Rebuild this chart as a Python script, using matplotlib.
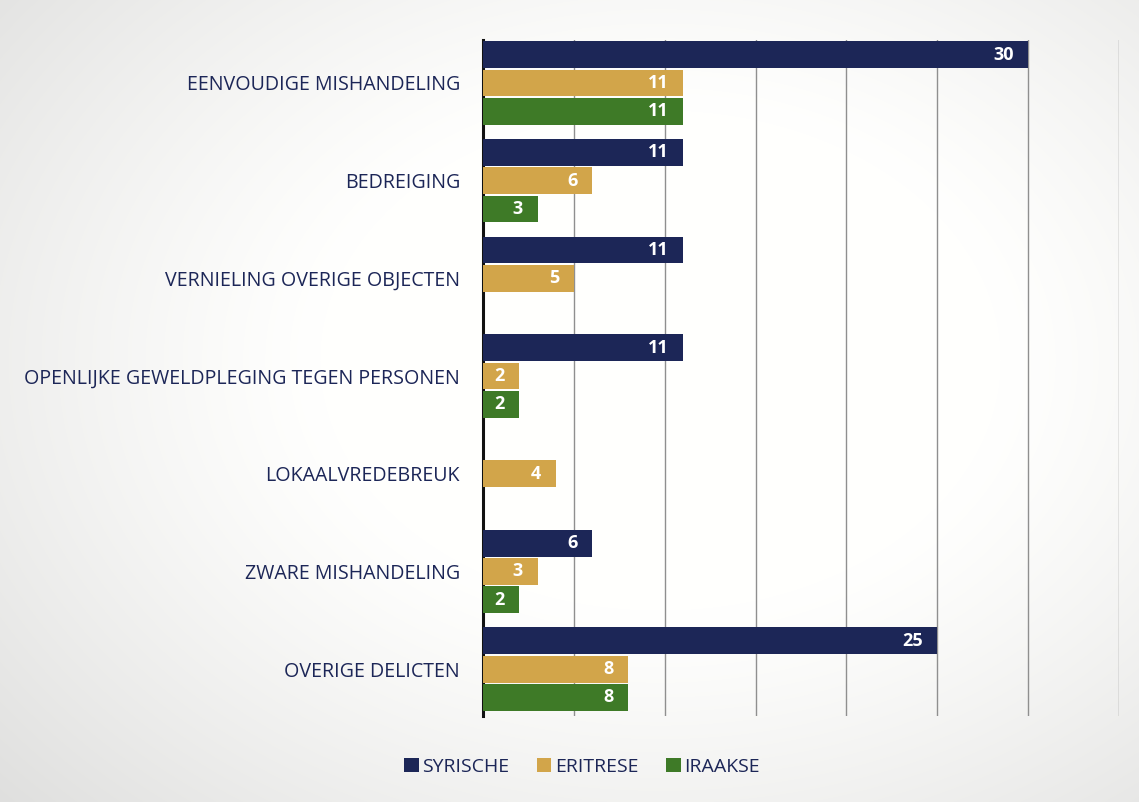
import numpy as np
import matplotlib
matplotlib.use("Agg")
import matplotlib.pyplot as plt
from matplotlib.patches import Patch

categories = ["EENVOUDIGE MISHANDELING", "BEDREIGING", "VERNIELING OVERIGE OBJECTEN",
              "OPENLIJKE GEWELDPLEGING TEGEN PERSONEN", "LOKAALVREDEBREUK",
              "ZWARE MISHANDELING", "OVERIGE DELICTEN"]
series_names = ["SYRISCHE", "ERITRESE", "IRAAKSE"]
syrische = [30, 11, 11, 11, None, 6, 25]
eritrese = [11, 6, 5, 2, 4, 3, 8]
iraakse = [11, 3, None, 2, None, 2, 8]
series = [syrische, eritrese, iraakse]
colors = ["#1c2657", "#d2a54a", "#3e7a27"]
text_color = "#1c2657"
font = ["Open Sans", "DejaVu Sans"]

fig = plt.figure(figsize=(11.39, 8.02), dpi=100)

# vignette background
bg = fig.add_axes([0, 0, 1, 1], zorder=-10)
yy, xx = np.mgrid[0:802, 0:1139]
cx, cy = 660, 360
r = np.sqrt(((xx - cx) / 680.0) ** 2 + ((yy - cy) / 500.0) ** 2)
v = 1.0 - 0.16 * np.clip(r - 0.5, 0, None) ** 1.2
v = np.clip(v, 0.8, 1.0)
img = np.dstack([v, v, v * 0.995])
bg.imshow(img, aspect="auto", extent=[0, 1, 0, 1])
bg.axis("off")

ax = fig.add_axes([483 / 1139, 1 - 716 / 802, (1119 - 483) / 1139, (716 - 40) / 802])
ax.patch.set_alpha(0)

n = len(categories)
ypos = np.arange(n)
h = 0.275
offs = [-0.29, 0.0, 0.29]
for s, vals in enumerate(series):
    for i, val in enumerate(vals):
        if val is None:
            continue
        y = ypos[i] + offs[s]
        ax.barh(y, val, height=h, color=colors[s], zorder=3)
        ax.text(val - 0.8, y, str(val), ha="right", va="center", color="white",
                fontsize=13, fontweight="bold", family=font, zorder=4)

ax.set_xlim(0, 35)
ax.set_ylim(6.48, -0.44)
ax.set_xticks(np.arange(0, 36, 5))
ax.set_xticklabels([])
ax.tick_params(axis="x", length=0)
ax.grid(axis="x", color="#8f8f8f", linewidth=1.0, zorder=0)
ax.set_yticks(ypos)
ax.set_yticklabels(categories, family=font, fontsize=14.1, color=text_color)
ax.tick_params(axis="y", length=0, pad=16.5)
for sp in ["top", "right", "bottom"]:
    ax.spines[sp].set_visible(False)
ax.spines["left"].set_linewidth(2.2)
ax.spines["left"].set_color("#111111")

handles = [Patch(facecolor=c, edgecolor="none") for c in colors]
leg = fig.legend(handles, series_names, loc="center", bbox_to_anchor=(0.511, 0.044),
                 ncol=3, frameon=False, handlelength=0.75, handleheight=0.75,
                 handletextpad=0.2, columnspacing=1.4,
                 prop={"family": font, "size": 14})
for t in leg.get_texts():
    t.set_color(text_color)

fig.savefig("out.png", dpi=100)
